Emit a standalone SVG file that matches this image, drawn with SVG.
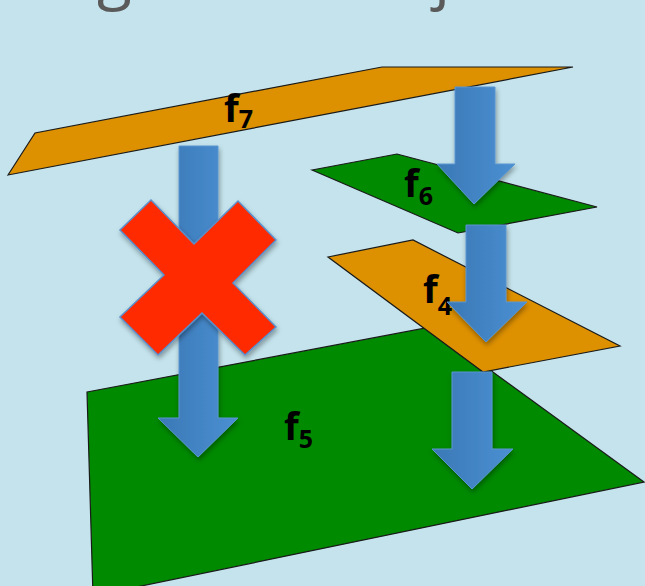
<svg xmlns="http://www.w3.org/2000/svg" width="645" height="586" viewBox="0 0 645 586">
<defs>
<linearGradient id="ag" x1="0" y1="0" x2="1" y2="0">
<stop offset="0" stop-color="#3B78B6"/>
<stop offset="1" stop-color="#4A90D2"/>
</linearGradient>
<filter id="sh" x="-30%" y="-30%" width="160%" height="160%">
<feDropShadow dx="1" dy="3" stdDeviation="2.5" flood-color="#000" flood-opacity="0.35"/>
</filter>
<style>
.bg{fill:#C4E3EC}
.or{fill:#DD9000;stroke:#1a1a1a;stroke-width:1.2;stroke-linejoin:miter}
.gr{fill:#008A00;stroke:#1a1a1a;stroke-width:1.2}
.arr{fill:url(#ag);stroke:#5A95D0;stroke-width:1;filter:url(#sh)}
.x{fill:#FF2A00;stroke:#5B8FCB;stroke-width:1.5;filter:url(#sh)}
.lbl{font-family:"Open Sans","Liberation Sans",sans-serif;font-weight:bold;font-size:38px;fill:#000}
.sub{font-size:25px}
.title{font-family:"Open Sans","Liberation Sans",sans-serif;font-size:64px;fill:#5A5A5A}
</style>
</defs>
<rect class="bg" x="0" y="0" width="645" height="586"/>
<text class="title" x="97" y="-3">g</text>
<text class="title" x="434" y="-3">j</text>

<g id="f5">
<polygon class="gr" points="87,392 431,327 644,482 93,596"/>
<text class="lbl" x="284" y="440">f<tspan class="sub" dy="8">5</tspan></text>
</g>
<g id="f7">
<polygon class="or" points="8,175 35,133 382,67 573,67"/>
<text class="lbl" x="224" y="122">f<tspan class="sub" dy="6">7</tspan></text>
</g>
<g id="f6">
<polygon class="gr" points="312,170 397,154 597,207 458,233"/>
<text class="lbl" x="404" y="197">f<tspan class="sub" dy="8">6</tspan></text>
</g>
<g id="f4">
<polygon class="or" points="328,257 413,240 620,346 483,372"/>
<text class="lbl" x="423" y="303">f<tspan class="sub" dy="12">4</tspan></text>
</g>

<g id="connectors">
<polygon class="arr" points="179,146 218,146 218,418 238,418 198,457 158,418 179,418"/>
<polygon class="arr" points="455,87 495,87 495,164 515,164 474,204 437,164 455,164"/>
<polygon class="arr" points="466,225 506,225 506,302 527,302 486,342 447,302 466,302"/>
<polygon class="arr" points="452,372 492,372 492,449 513,449 472,489 432,449 452,449"/>
</g>

<g id="cross">
<polygon class="x" points="151,200 194,244 238,201 276,240 233,283 276,327 245,355 202,313 158,355 120,317 164,275 120,230"/>
</g>
</svg>
